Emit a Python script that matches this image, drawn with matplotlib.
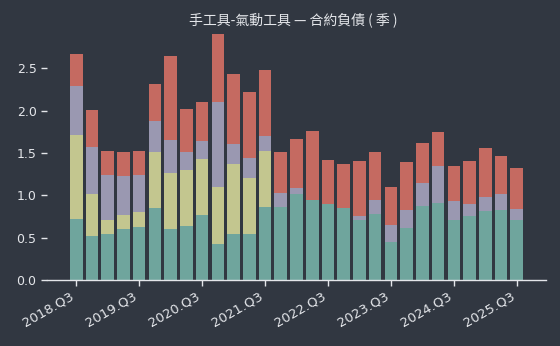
import matplotlib
matplotlib.use("Agg")
import matplotlib.pyplot as plt
import numpy as np

quarters = [f"{y}.Q{q}" for y, q in
            [(2018, 3), (2018, 4)] + [(y, q) for y in range(2019, 2025) for q in (1, 2, 3, 4)] + [(2025, 1), (2025, 2), (2025, 3)]]

teal = [0.72, 0.52, 0.54, 0.60, 0.63, 0.85, 0.60, 0.64, 0.77, 0.42,
        0.54, 0.54, 0.86, 0.86, 1.01, 0.94, 0.90, 0.85, 0.71, 0.78,
        0.45, 0.61, 0.87, 0.91, 0.71, 0.75, 0.81, 0.83, 0.71]
olive = [0.99, 0.50, 0.17, 0.17, 0.17, 0.66, 0.665, 0.66, 0.66, 0.68,
         0.83, 0.66, 0.66, 0.0, 0.0, 0.0, 0.0, 0.0, 0.0, 0.0,
         0.0, 0.0, 0.0, 0.0, 0.0, 0.0, 0.0, 0.0, 0.0]
purple = [0.58, 0.55, 0.53, 0.46, 0.44, 0.37, 0.39, 0.21, 0.21, 1.00,
          0.24, 0.24, 0.18, 0.17, 0.08, 0.0, 0.0, 0.0, 0.04, 0.16,
          0.20, 0.22, 0.28, 0.44, 0.22, 0.15, 0.17, 0.19, 0.13]
red = [0.38, 0.44, 0.28, 0.28, 0.28, 0.43, 0.99, 0.51, 0.46, 0.80,
       0.82, 0.78, 0.78, 0.48, 0.58, 0.82, 0.52, 0.52, 0.65, 0.57,
       0.45, 0.56, 0.47, 0.40, 0.41, 0.51, 0.58, 0.44, 0.48]

title = "手工具-氣動工具 — 合約負債 ( 季 )"

colors = ["#6fa59d", "#c3c68f", "#9a98b1", "#c56a61"]
bg = "#313741"
fg = "#e4e6ea"

fig = plt.figure(figsize=(5.6, 3.46), dpi=100, facecolor=bg)
ax = fig.add_axes([0.0839, 0.1908, 0.975 - 0.0839, 0.919 - 0.1908])
ax.set_facecolor(bg)

x = np.arange(len(quarters))
bottom = np.zeros(len(quarters))
for vals, c in zip([teal, olive, purple, red], colors):
    vals = np.array(vals)
    ax.bar(x, vals, 0.8, bottom=bottom, color=c, linewidth=0)
    bottom += vals

ax.set_xlim(-1.86, 29.86)
ax.set_ylim(0, 2.975)
ax.set_yticks([0, 0.5, 1.0, 1.5, 2.0, 2.5])
ax.set_yticklabels(["0.0", "0.5", "1.0", "1.5", "2.0", "2.5"])
tick_idx = [i for i, q in enumerate(quarters) if q.endswith("Q3")]
ax.set_xticks(tick_idx)
ax.set_xticklabels([quarters[i] for i in tick_idx], rotation=30, ha="right")

for s in ["left", "top", "right"]:
    ax.spines[s].set_visible(False)
ax.spines["bottom"].set_color(fg)
ax.spines["bottom"].set_linewidth(1.0)
ax.tick_params(colors=fg, labelsize=9, length=4, width=1)
ax.tick_params(axis="x", labelsize=9.5, pad=3)

fig.text(0.5 * (186 + 400) / 560, 1 - 19.5 / 346, title,
         ha="center", va="center", color=fg, fontsize=10,
         family=["Noto Sans CJK TC", "DejaVu Sans"])

fig.savefig("out.png", dpi=100, facecolor=bg)
